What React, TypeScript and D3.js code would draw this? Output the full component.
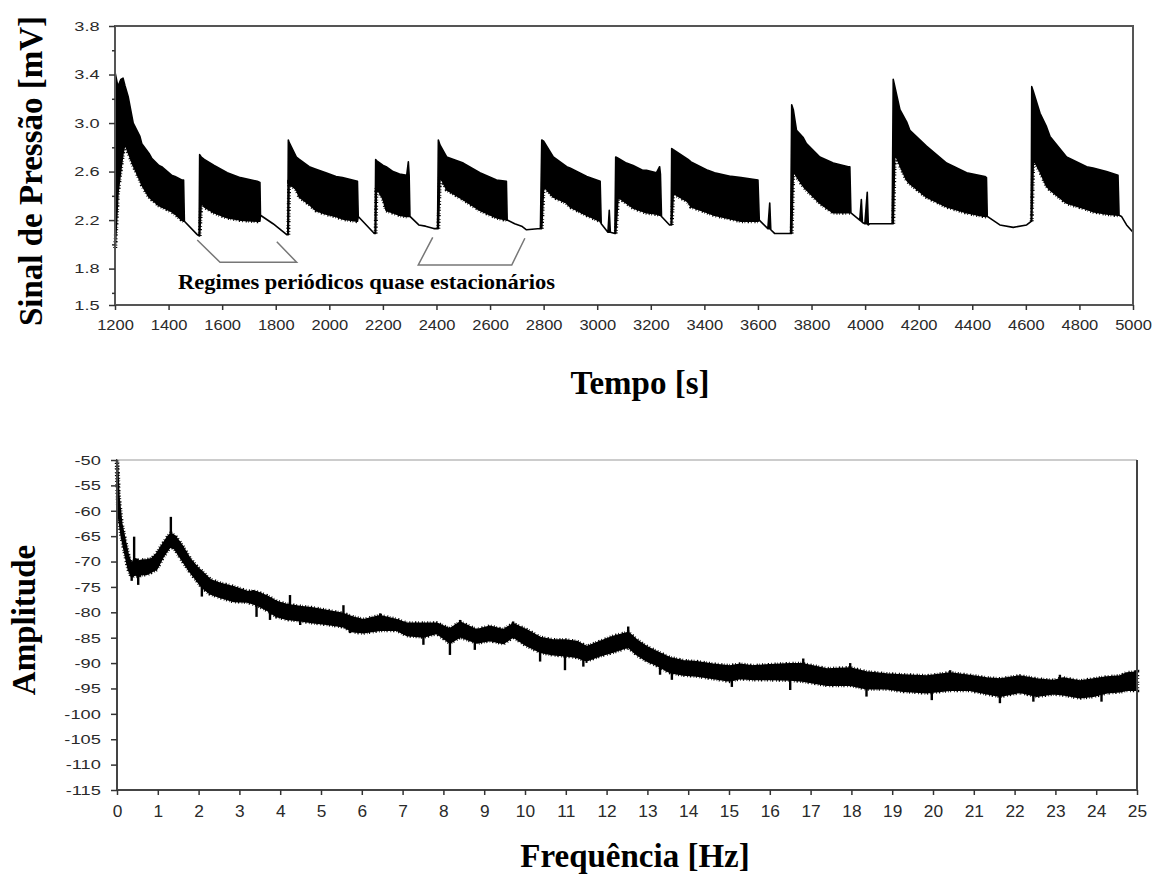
import React, { useEffect, useRef } from "react";
import * as d3 from "d3";

// Sinal de pressão: envelope (máximo / mínimo)
const tempo = [
  1201, 1211, 1222, 1230, 1237, 1249, 1268, 1293, 1300, 1327, 1337, 1364, 1374, 1411, 1424, 1449, 1456, 1459,
  1507, 1514, 1516, 1522, 1533, 1570, 1619, 1668, 1731, 1741, 1743, 1790, 1841, 1845,
  1847, 1850, 1877, 1888, 1925, 1950, 1987, 2025, 2049, 2105, 2108, 2168, 2171,
  2173, 2176, 2201, 2212, 2238, 2262, 2289, 2295, 2298, 2301, 2334, 2359, 2390, 2404,
  2407, 2413, 2438, 2500, 2562, 2624, 2661, 2664, 2692, 2718, 2736, 2788,
  2793, 2800, 2836, 2886, 2898, 2961, 3011, 3015, 3040, 3045, 3049, 3066,
  3069, 3078, 3109, 3134, 3171, 3184, 3221, 3233, 3236, 3240, 3270, 3276,
  3278, 3284, 3339, 3350, 3413, 3438, 3500, 3537, 3600, 3605, 3637, 3644, 3648, 3662, 3722,
  3726, 3732, 3744, 3769, 3781, 3831, 3881, 3937, 3943, 3947, 3980, 3986, 3990, 3999, 4008, 4012, 4018, 4101,
  4105, 4111, 4130, 4155, 4167, 4229, 4304, 4379, 4447, 4453, 4456, 4503, 4553, 4603, 4620,
  4622, 4628, 4653, 4677, 4690, 4752, 4827, 4851, 4901, 4944, 4948, 4957, 4976, 5000,
];
const sinalMax = [
  3.41, 3.3, 3.36, 3.37, 3.31, 3.22, 3.0, 2.89, 2.83, 2.75, 2.71, 2.65, 2.64, 2.57, 2.56, 2.53, 2.53, 2.19,
  2.08, 2.07, 2.74, 2.72, 2.7, 2.65, 2.59, 2.55, 2.52, 2.51, 2.24, 2.17, 2.08, 2.08,
  2.86, 2.84, 2.72, 2.7, 2.64, 2.62, 2.59, 2.56, 2.55, 2.52, 2.23, 2.09, 2.09,
  2.7, 2.69, 2.65, 2.64, 2.6, 2.58, 2.57, 2.68, 2.57, 2.23, 2.16, 2.15, 2.13, 2.13,
  2.86, 2.82, 2.72, 2.67, 2.59, 2.53, 2.52, 2.2, 2.17, 2.15, 2.12, 2.13,
  2.86, 2.85, 2.72, 2.64, 2.63, 2.56, 2.52, 2.17, 2.1, 2.28, 2.1, 2.09,
  2.72, 2.71, 2.67, 2.65, 2.61, 2.61, 2.59, 2.64, 2.58, 2.23, 2.16, 2.16,
  2.79, 2.78, 2.7, 2.68, 2.61, 2.59, 2.56, 2.55, 2.53, 2.2, 2.13, 2.34, 2.12, 2.09, 2.09,
  3.15, 3.11, 2.94, 2.88, 2.83, 2.72, 2.67, 2.64, 2.64, 2.26, 2.2, 2.37, 2.18, 2.17, 2.43, 2.16, 2.17, 2.17,
  3.36, 3.3, 3.11, 3.01, 2.94, 2.81, 2.67, 2.59, 2.56, 2.55, 2.23, 2.16, 2.14, 2.16, 2.19,
  3.3, 3.26, 3.08, 2.97, 2.89, 2.72, 2.64, 2.63, 2.6, 2.57, 2.24, 2.23, 2.16, 2.1,
];
const sinalMin = [
  1.97, 2.42, 2.62, 2.75, 2.83, 2.76, 2.65, 2.53, 2.49, 2.39, 2.37, 2.32, 2.31, 2.27, 2.25, 2.2, 2.19, 2.19,
  2.08, 2.07, 2.07, 2.35, 2.31, 2.26, 2.22, 2.2, 2.19, 2.19, 2.24, 2.17, 2.08, 2.08,
  2.08, 2.5, 2.45, 2.39, 2.33, 2.28, 2.25, 2.23, 2.21, 2.19, 2.23, 2.09, 2.09,
  2.09, 2.47, 2.37, 2.28, 2.26, 2.24, 2.23, 2.23, 2.23, 2.23, 2.16, 2.15, 2.13, 2.13,
  2.13, 2.56, 2.45, 2.37, 2.28, 2.22, 2.2, 2.2, 2.17, 2.15, 2.12, 2.13,
  2.13, 2.48, 2.39, 2.34, 2.31, 2.24, 2.19, 2.17, 2.1, 2.1, 2.1, 2.09,
  2.09, 2.39, 2.34, 2.3, 2.27, 2.26, 2.25, 2.24, 2.24, 2.23, 2.16, 2.16,
  2.16, 2.42, 2.35, 2.31, 2.26, 2.24, 2.21, 2.19, 2.19, 2.2, 2.13, 2.13, 2.12, 2.09, 2.09,
  2.09, 2.61, 2.56, 2.48, 2.45, 2.34, 2.26, 2.26, 2.26, 2.26, 2.2, 2.19, 2.18, 2.17, 2.17, 2.16, 2.17, 2.17,
  2.17, 2.75, 2.65, 2.53, 2.5, 2.39, 2.31, 2.26, 2.23, 2.23, 2.23, 2.16, 2.14, 2.16, 2.19,
  2.19, 2.7, 2.6, 2.48, 2.45, 2.34, 2.29, 2.27, 2.25, 2.24, 2.24, 2.23, 2.16, 2.1,
];

// Espectro: faixa principal (máximo / mínimo)
const frequencia = [
  0, 0.02, 0.04, 0.11, 0.2, 0.28, 0.36, 0.46, 0.52, 0.6, 0.73, 0.85, 0.97, 1.13, 1.26, 1.32, 1.42, 1.58,
  1.79, 1.95, 2.08, 2.28, 2.52, 2.85, 3.18, 3.42, 3.67, 3.91, 4.16, 4.49, 4.81, 5.14, 5.55, 5.79, 6.04,
  6.45, 6.86, 7.1, 7.51, 7.84, 8.16, 8.41, 8.82, 9.14, 9.47, 9.71, 10.04, 10.37, 10.69, 10.98, 11.27, 11.51,
  11.84, 12.16, 12.53, 12.74, 12.98, 13.23, 13.55, 13.88, 14.21, 14.62, 15.02, 15.27, 15.6, 16.0, 16.5, 16.8,
  17.4, 17.97, 18.37, 18.86, 19.27, 19.85, 20.42, 20.9, 21.32, 21.64, 22.13, 22.54, 22.95, 23.19, 23.6, 23.93,
  24.26, 24.58, 24.75, 25,
];
const amplitudeMax = [
  -50, -53, -57, -62.5, -66, -69, -70.5, -69.5, -70, -69.8, -69.7, -69.5, -68.5, -66.5, -65, -64.5, -65, -66.7,
  -69.5, -71, -72, -73.6, -74.3, -75, -75.9, -76, -76.8, -77.9, -78.5, -78.9, -79.2, -79.7, -80.3, -81, -81.5,
  -80.7, -81.5, -82.2, -82.2, -82.2, -83.3, -82, -83.5, -82.8, -83.5, -82.3, -83.5, -85, -85.5, -85.5, -85.8, -86.8,
  -85.8, -84.8, -84, -85.5, -86.8, -87.8, -89, -89.6, -89.8, -90.3, -90.6, -90.3, -90.6, -90.4, -90.2, -90.2,
  -91.2, -91, -91.8, -92.2, -92.4, -92.6, -92, -92.5, -93, -93.2, -92.6, -93.2, -93.5, -93, -93.6, -93.2,
  -92.8, -92.6, -92, -91.8,
];
const amplitudeMin = [
  -52, -57, -61, -65, -68.5, -71.5, -73, -72.5, -73, -72.5, -72.5, -72, -71.5, -69, -67.5, -67, -67.5, -69.5,
  -72, -73.6, -75, -76.3, -77, -77.8, -77.9, -78.5, -79.5, -80.8, -81.3, -81.6, -82, -82.3, -82.8, -83.8, -84,
  -83.5, -83.5, -84.5, -84.8, -84.1, -86, -84.8, -86, -85.5, -86.1, -84.8, -86.5, -87.8, -88.3, -88.5, -88.8, -89.5,
  -88.5, -87.8, -86.8, -88.3, -89.5, -90.4, -91.8, -92.3, -92.5, -93, -93.5, -93, -93.2, -93.2, -93.3, -93.5,
  -94.3, -94.3, -95, -95, -95.5, -95.8, -95.3, -95.3, -96, -96.5, -95.7, -96.5, -96, -96.2, -96.8, -96.5,
  -95.8, -95.6, -95.3, -95.3,
];

// Picos isolados do espectro (frequência, amplitude)
const picoFrequencia = [
  0.36, 0.42, 0.52, 1.32, 2.08, 3.34, 3.42, 3.75, 4.24, 4.49, 5.55, 5.71, 6.45, 7.51, 8.16, 8.41, 8.77, 9.71,
  10.37, 10.98, 11.43, 12.53, 13.31, 13.6, 15.07, 16.5, 16.82, 17.97, 18.37, 19.97, 20.42, 21.64, 22.46, 23.11,
  24.13, 24.98,
];
const picoAmplitude = [
  -73.8, -65.1, -74.6, -61.2, -76.9, -75.6, -80.9, -81.5, -76.6, -82.5, -78.6, -84.1, -80.2, -86.4, -88.4, -81.5, -87.4, -81.8,
  -89.7, -91.4, -90.7, -82.8, -92.3, -93.3, -94.7, -95.3, -89.1, -90.0, -96.6, -97.3, -91.4, -97.9, -97.6, -92.3,
  -97.6, -91.4,
];

const sinalTicks = [1.5, 1.8, 2.2, 2.6, 3.0, 3.4, 3.8];
const sinalMinorTicks = [1.6, 2.0, 2.4, 2.8, 3.2, 3.6];
const tempoTicks = [1200, 1400, 1600, 1800, 2000, 2200, 2400, 2600, 2800, 3000, 3200, 3400, 3600, 3800, 4000, 4200, 4400, 4600, 4800, 5000];
const amplitudeTicks = [-50, -55, -60, -65, -70, -75, -80, -85, -90, -95, -100, -105, -110, -115];
const frequenciaTicks = [0, 1, 2, 3, 4, 5, 6, 7, 8, 9, 10, 11, 12, 13, 14, 15, 16, 17, 18, 19, 20, 21, 22, 23, 24, 25];

// colchetes da anotação, em coordenadas (tempo, sinal)
const colchete1 = [[1507, 2.036], [1592, 1.852], [1878, 1.852], [1804, 2.022]];
const colchete2 = [[2386, 2.058], [2332, 1.83], [2681, 1.83], [2730, 2.05]];
const anotacao = { tempo: 1435, sinal: 1.632, texto: "Regimes periódicos quase estacionários" };

const SERIF = "'Liberation Serif', 'Times New Roman', serif";
const SANS = "'Liberation Sans', Arial, sans-serif";
// irregular dash pattern used to roughen the edges of the noisy bands
const FRINGE = "1 1.6 0.7 2.4 1.3 1.9 0.8 2.8 1.1 1.5 0.6 2.2";

const App = () => {
  const svgRef = useRef<SVGSVGElement>(null);

  useEffect(() => {
    const svg = d3.select(svgRef.current);
    svg.selectAll("*").remove();

    svg.append("rect").attr("width", 1155).attr("height", 876).attr("fill", "#fff");

    const styleTicks = (g: any, size: number, sx: number) => {
      g.select(".domain").remove();
      g.selectAll("line").attr("stroke", "#333").attr("stroke-width", 1.5);
      g.selectAll("text")
        .attr("fill", "#2a2a2a")
        .style("font-family", SANS)
        .style("font-size", `${size}px`)
        .attr("transform", `scale(${sx},1)`);
    };

    // ---------- top chart ----------
    const t = { l: 115, r: 1133, t: 26, b: 305 };
    const x1 = d3.scaleLinear().domain([1200, 5000]).range([t.l, t.r]);
    const y1 = d3.scaleLinear().domain([1.5, 3.8]).range([t.b, t.t]);

    const idx1 = d3.range(tempo.length);
    const area1 = d3
      .area<number>()
      .x((i) => x1(tempo[i]))
      .y0((i) => y1(sinalMin[i]))
      .y1((i) => y1(sinalMax[i]));
    svg
      .append("path")
      .attr("d", area1(idx1))
      .attr("fill", "#000")
      .attr("stroke", "#000")
      .attr("stroke-width", 1.6)
      .attr("stroke-linejoin", "round");
    // rough lower edge of the oscillating bursts
    const lower1 = d3
      .line<number>()
      .defined((i) => sinalMax[i] - sinalMin[i] > 0.05)
      .x((i) => x1(tempo[i]))
      .y((i) => y1(sinalMin[i]));
    svg
      .append("path")
      .attr("d", lower1(idx1))
      .attr("fill", "none")
      .attr("stroke", "#000")
      .attr("stroke-width", 4)
      .attr("stroke-dasharray", FRINGE);

    svg
      .append("rect")
      .attr("x", t.l)
      .attr("y", t.t)
      .attr("width", t.r - t.l)
      .attr("height", t.b - t.t)
      .attr("fill", "none")
      .attr("stroke", "#555")
      .attr("stroke-width", 2);

    svg
      .append("g")
      .attr("transform", `translate(${t.l},0)`)
      .call(d3.axisLeft(y1).tickValues(sinalTicks).tickSize(6).tickPadding(5).tickFormat(d3.format(".1f")))
      .call((g: any) => styleTicks(g, 13, 1.4));
    svg
      .append("g")
      .attr("transform", `translate(${t.l},0)`)
      .call(d3.axisLeft(y1).tickValues(sinalMinorTicks).tickSize(3).tickFormat(() => ""))
      .call((g: any) => styleTicks(g, 13, 1));
    svg
      .append("g")
      .attr("transform", `translate(0,${t.b})`)
      .call(d3.axisBottom(x1).tickValues(tempoTicks).tickSize(5).tickPadding(9).tickFormat(d3.format("d")))
      .call((g: any) => styleTicks(g, 15, 1.1));

    // annotation
    const bracket = d3
      .line<number[]>()
      .x((d) => x1(d[0]))
      .y((d) => y1(d[1]));
    [colchete1, colchete2].forEach((c) => {
      svg
        .append("path")
        .attr("d", bracket(c))
        .attr("fill", "none")
        .attr("stroke", "#777")
        .attr("stroke-width", 1.5);
    });
    svg
      .append("text")
      .attr("x", x1(anotacao.tempo))
      .attr("y", y1(anotacao.sinal))
      .attr("textLength", 377)
      .attr("lengthAdjust", "spacingAndGlyphs")
      .style("font-family", SERIF)
      .style("font-weight", "bold")
      .style("font-size", "21px")
      .text(anotacao.texto);

    svg
      .append("text")
      .attr("transform", `translate(42,171) rotate(-90)`)
      .attr("text-anchor", "middle")
      .style("font-family", SERIF)
      .style("font-weight", "bold")
      .style("font-size", "33px")
      .text("Sinal de Pressão [mV]");
    svg
      .append("text")
      .attr("x", 640)
      .attr("y", 394)
      .attr("text-anchor", "middle")
      .style("font-family", SERIF)
      .style("font-weight", "bold")
      .style("font-size", "33px")
      .text("Tempo [s]");

    // ---------- bottom chart ----------
    const b = { l: 117, r: 1137, t: 460, b: 790 };
    const x2 = d3.scaleLinear().domain([0, 25]).range([b.l, b.r]);
    const y2 = d3.scaleLinear().domain([-115, -50]).range([b.b, b.t]);

    const idx2 = d3.range(frequencia.length);
    const area2 = d3
      .area<number>()
      .x((i) => x2(frequencia[i]))
      .y0((i) => y2(amplitudeMin[i]))
      .y1((i) => y2(amplitudeMax[i]));
    svg
      .append("path")
      .attr("d", area2(idx2))
      .attr("fill", "#000")
      .attr("stroke", "#000")
      .attr("stroke-width", 2)
      .attr("stroke-linejoin", "round");
    // rough edges of the band
    svg
      .append("path")
      .attr("d", area2(idx2))
      .attr("fill", "none")
      .attr("stroke", "#000")
      .attr("stroke-width", 4.5)
      .attr("stroke-dasharray", FRINGE);

    // isolated peaks, drawn from the centre of the band
    const centro = (f: number) => {
      const j = Math.max(1, d3.bisectLeft(frequencia, f));
      const f0 = frequencia[j - 1];
      const f1 = frequencia[j];
      const k = (f - f0) / (f1 - f0);
      const c0 = (amplitudeMax[j - 1] + amplitudeMin[j - 1]) / 2;
      const c1 = (amplitudeMax[j] + amplitudeMin[j]) / 2;
      return c0 + (c1 - c0) * k;
    };
    svg
      .append("g")
      .selectAll("line")
      .data(d3.range(picoFrequencia.length))
      .enter()
      .append("line")
      .attr("x1", (i) => x2(picoFrequencia[i]))
      .attr("x2", (i) => x2(picoFrequencia[i]))
      .attr("y1", (i) => y2(centro(picoFrequencia[i])))
      .attr("y2", (i) => y2(picoAmplitude[i]))
      .attr("stroke", "#000")
      .attr("stroke-width", 2.4);

    svg
      .append("line")
      .attr("x1", b.l)
      .attr("x2", b.r)
      .attr("y1", b.t)
      .attr("y2", b.t)
      .attr("stroke", "#bbb")
      .attr("stroke-width", 1.5);
    svg
      .append("path")
      .attr("d", `M${b.l},${b.t}V${b.b}H${b.r}V${b.t}`)
      .attr("fill", "none")
      .attr("stroke", "#444")
      .attr("stroke-width", 2);

    svg
      .append("g")
      .attr("transform", `translate(${b.l},0)`)
      .call(d3.axisLeft(y2).tickValues(amplitudeTicks).tickSize(6).tickPadding(6).tickFormat((d: any) => String(d)))
      .call((g: any) => styleTicks(g, 13.5, 1.35));
    svg
      .append("g")
      .attr("transform", `translate(0,${b.b})`)
      .call(d3.axisBottom(x2).tickValues(frequenciaTicks).tickSize(5).tickPadding(10).tickFormat((d: any) => String(d)))
      .call((g: any) => styleTicks(g, 16.5, 1.05));

    svg
      .append("text")
      .attr("transform", `translate(35,620) rotate(-90)`)
      .attr("text-anchor", "middle")
      .style("font-family", SERIF)
      .style("font-weight", "bold")
      .style("font-size", "33px")
      .text("Amplitude");
    svg
      .append("text")
      .attr("x", 635)
      .attr("y", 867)
      .attr("text-anchor", "middle")
      .style("font-family", SERIF)
      .style("font-weight", "bold")
      .style("font-size", "33px")
      .text("Frequência [Hz]");
  }, []);

  return (
    <svg
      ref={svgRef}
      width={1155}
      height={876}
      style={{ position: "absolute", left: 0, top: 0, display: "block" }}
    ></svg>
  );
};

export default App;
